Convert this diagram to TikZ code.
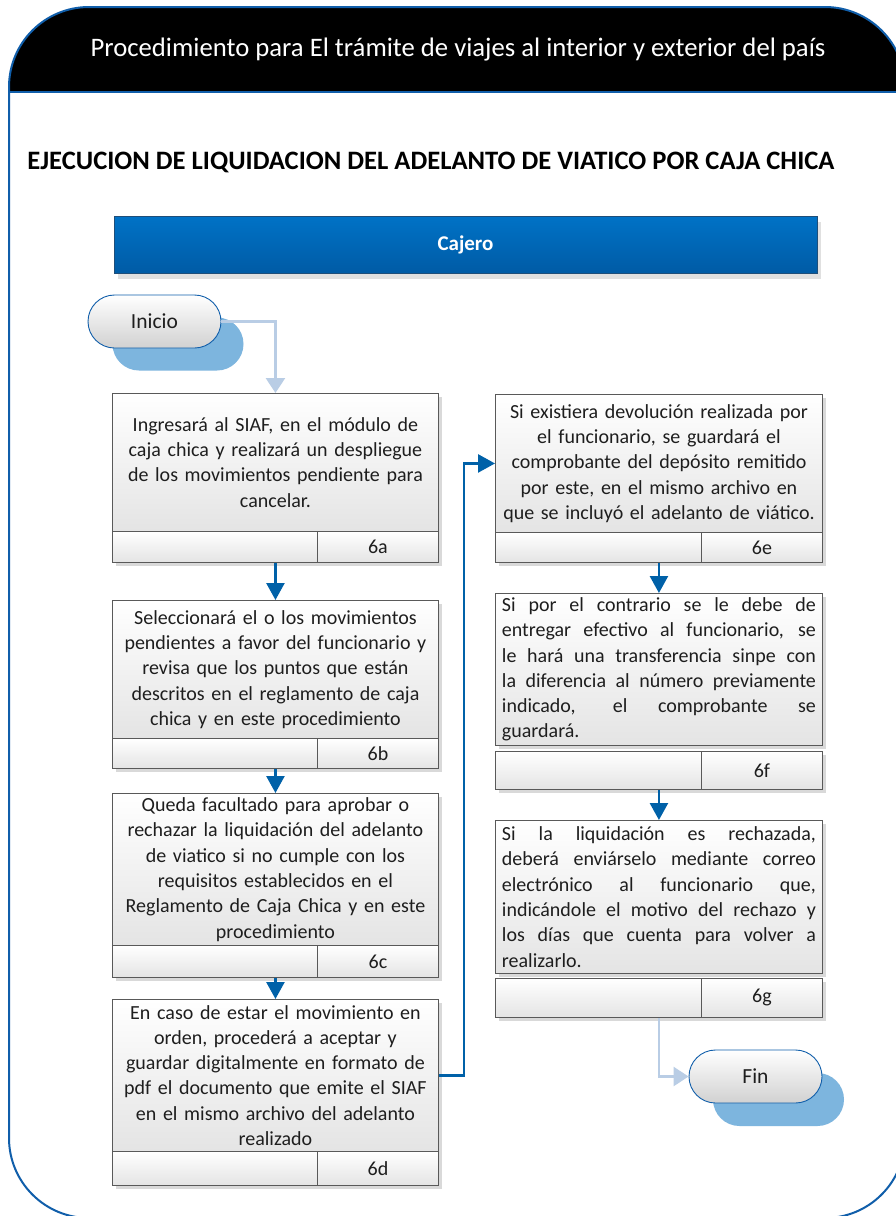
\documentclass[tikz,border=0pt]{standalone}
\usepackage{fontspec}
\setmainfont{Carlito}
\usetikzlibrary{arrows.meta,shapes.misc,shadows}
\definecolor{frameblue}{RGB}{16,94,170}
\definecolor{darkarrow}{RGB}{0,97,168}
\definecolor{lightarrow}{RGB}{185,205,229}
\definecolor{pillshadow}{RGB}{125,181,222}
\definecolor{bandtop}{RGB}{0,114,198}
\definecolor{bandbot}{RGB}{0,91,165}
\definecolor{bandline}{RGB}{31,78,121}
\definecolor{boxline}{RGB}{89,89,89}
\definecolor{boxbot}{RGB}{228,228,228}
\definecolor{txt}{RGB}{30,30,30}
\newcommand\jline[1]{\hbox to 314pt{\spaceskip=0.22em plus 1fil\xspaceskip=0.22em plus 1fil\relax #1}}
\tikzset{
  boxtext/.style={font=\fontsize{20}{25.3}\selectfont, text=txt},
  procbox/.style={draw=boxline, line width=0.9pt, top color=white, bottom color=boxbot,
    drop shadow={shadow xshift=4pt, shadow yshift=-4pt, fill=black!15, opacity=1},
    anchor=north west, inner sep=0pt, boxtext},
  labcell/.style={draw=boxline, line width=0.9pt, top color=white, bottom color=boxbot,
    anchor=north west, inner sep=0pt, boxtext},
  labshadow/.style={drop shadow={shadow xshift=4pt, shadow yshift=-4pt, fill=black!15, opacity=1}},
  pill/.style={rounded rectangle, draw=frameblue, line width=0.9pt, top color=white, bottom color=black!18,
    minimum width=133pt, minimum height=53pt, inner sep=0pt, font=\fontsize{21.5}{24}\selectfont, text=txt},
  pillshad/.style={rounded rectangle, fill=pillshadow, minimum width=131pt, minimum height=53pt, inner sep=0pt},
  darr/.style={draw=darkarrow, line width=2.6pt, -{Triangle[width=18pt,length=17pt]}},
  larr/.style={draw=lightarrow, line width=2.6pt, -{Triangle[width=19pt,length=15pt]}}
}
\begin{document}
\begin{tikzpicture}[x=1pt,y=-1pt]
\useasboundingbox (0,0) rectangle (896,1216);
\clip (0,0) rectangle (896,1216);
\fill[white] (0,0) rectangle (896,1216);
% header
\begin{scope}
  \clip[rounded corners=80pt] (9,600) -- (9,7) -- (905,7) -- (905,1218) -- (9,1218) -- cycle;
  \fill[black] (0,0) rectangle (920,92);
\end{scope}
\draw[frameblue, line width=2pt] (9,92) -- (905,92);
\draw[frameblue, line width=2pt, rounded corners=80pt] (9,600) -- (9,7) -- (905,7) -- (905,1218) -- (9,1218) -- cycle;
\node[text=white, font=\fontsize{26.7}{30}\selectfont] (hdr) at (458,50) {Procedimiento para El trámite de viajes al interior y exterior del país};
\node[font=\bfseries\fontsize{26.6}{30}\selectfont, text=black] (ttl) at (431,162) {EJECUCION DE LIQUIDACION DEL ADELANTO DE VIATICO POR CAJA CHICA};
% lane header
\node[draw=bandline, line width=0.8pt, top color=bandtop, bottom color=bandbot,
  drop shadow={shadow xshift=4pt, shadow yshift=-5pt, fill=black!12, opacity=1},
  minimum width=703pt, minimum height=57pt, inner sep=0pt, text=white,
  font=\bfseries\fontsize{21}{24}\selectfont] (cajero) at (465.5,245) {Cajero};
% start / end
\node[pillshad] (inicioS) at (178,344) {};
\node[pill] (inicio) at (154.5,321.5) {Inicio};
\node[pillshad] (finS) at (778.5,1099.5) {};
\node[pill] (fin) at (755.5,1076.5) {Fin};
% left column
\node[procbox, minimum width=326pt, minimum height=138pt, text width=316pt, align=center] (b6a) at (112,393)
 {Ingresará al SIAF, en el módulo de\\caja chica y realizará un despliegue\\de los movimientos pendiente para\\cancelar.};
\node[labcell, labshadow, minimum width=326pt, minimum height=31pt] (r6a) at (112,531) {};
\node[labcell, minimum width=205pt, minimum height=31pt] (l6a) at (112,531) {};
\node[labcell, minimum width=121pt, minimum height=31pt] (n6a) at (317,531) {6a};

\node[procbox, minimum width=326pt, minimum height=138pt, text width=316pt, align=center] (b6b) at (112,600)
 {Seleccionará el o los movimientos\\pendientes a favor del funcionario y\\revisa que los puntos que están\\descritos en el reglamento de caja\\chica y en este procedimiento};
\node[labcell, labshadow, minimum width=326pt, minimum height=30pt] (r6b) at (112,738) {};
\node[labcell, minimum width=205pt, minimum height=30pt] (l6b) at (112,738) {};
\node[labcell, minimum width=121pt, minimum height=30pt] (n6b) at (317,738) {6b};

\node[procbox, minimum width=326pt, minimum height=152pt, text width=316pt, align=center] (b6c) at (112,793)
 {Queda facultado para aprobar o\\rechazar la liquidación del adelanto\\de viatico si no cumple con los\\requisitos establecidos en el\\Reglamento de Caja Chica y en este\\procedimiento};
\node[labcell, labshadow, minimum width=326pt, minimum height=32pt] (r6c) at (112,945) {};
\node[labcell, minimum width=205pt, minimum height=32pt] (l6c) at (112,945) {};
\node[labcell, minimum width=121pt, minimum height=32pt] (n6c) at (317,945) {6c};

\node[procbox, minimum width=326pt, minimum height=152pt, text width=316pt, align=center] (b6d) at (112,999)
 {En caso de estar el movimiento en\\orden, procederá a aceptar y\\guardar digitalmente en formato de\\pdf el documento que emite el SIAF\\en el mismo archivo del adelanto\\realizado};
\node[labcell, labshadow, minimum width=326pt, minimum height=34pt] (r6d) at (112,1151) {};
\node[labcell, minimum width=205pt, minimum height=34pt] (l6d) at (112,1151) {};
\node[labcell, minimum width=121pt, minimum height=34pt] (n6d) at (317,1151) {6d};
% right column
\node[procbox, minimum width=327pt, minimum height=138pt, text width=318pt, align=center] (b6e) at (495,394)
 {Si existiera devolución realizada por\\el funcionario, se guardará el\\comprobante del depósito remitido\\por este, en el mismo archivo en\\que se incluyó el adelanto de viático.};
\node[labcell, labshadow, minimum width=327pt, minimum height=30pt] (r6e) at (495,532) {};
\node[labcell, minimum width=206pt, minimum height=30pt] (l6e) at (495,532) {};
\node[labcell, minimum width=121pt, minimum height=30pt] (n6e) at (701,532) {6e};

\node[procbox, minimum width=327pt, minimum height=152pt, text width=314pt, align=left] (b6f) at (495,593)
 {\jline{Si por el contrario se le debe de}
  \jline{entregar efectivo al funcionario, se}
  \jline{le hará una transferencia sinpe con}
  \jline{la diferencia al número previamente}
  \jline{indicado, el comprobante se}
  \hbox{guardará.}};
\node[labcell, labshadow, minimum width=327pt, minimum height=38pt] (r6f) at (495,751) {};
\node[labcell, minimum width=206pt, minimum height=38pt] (l6f) at (495,751) {};
\node[labcell, minimum width=121pt, minimum height=38pt] (n6f) at (701,751) {6f};

\node[procbox, minimum width=327pt, minimum height=153pt, text width=314pt, align=left] (b6g) at (495,820)
 {\jline{Si la liquidación es rechazada,}
  \jline{deberá enviárselo mediante correo}
  \jline{electrónico al funcionario que,}
  \jline{indicándole el motivo del rechazo y}
  \jline{los días que cuenta para volver a}
  \hbox{realizarlo.}};
\node[labcell, labshadow, minimum width=327pt, minimum height=39pt] (r6g) at (495,978) {};
\node[labcell, minimum width=206pt, minimum height=39pt] (l6g) at (495,978) {};
\node[labcell, minimum width=121pt, minimum height=39pt] (n6g) at (701,978) {6g};
% connectors
\draw[larr] (inicio.east) -| (b6a.north);
\draw[darr] (b6a.south |- r6a.south) -- (b6b.north);
\draw[darr] (b6b.south |- r6b.south) -- (b6c.north);
\draw[darr] (b6c.south |- r6c.south) -- (b6d.north);
\draw[darr] (b6d.east) -- ++(25,0) |- (b6e.west);
\draw[darr] (b6e.south |- r6e.south) -- (b6f.north);
\draw[darr] (b6f.south |- r6f.south) -- (b6g.north);
\draw[larr] (b6g.south |- r6g.south) |- (fin.west);
\end{tikzpicture}
\end{document}
